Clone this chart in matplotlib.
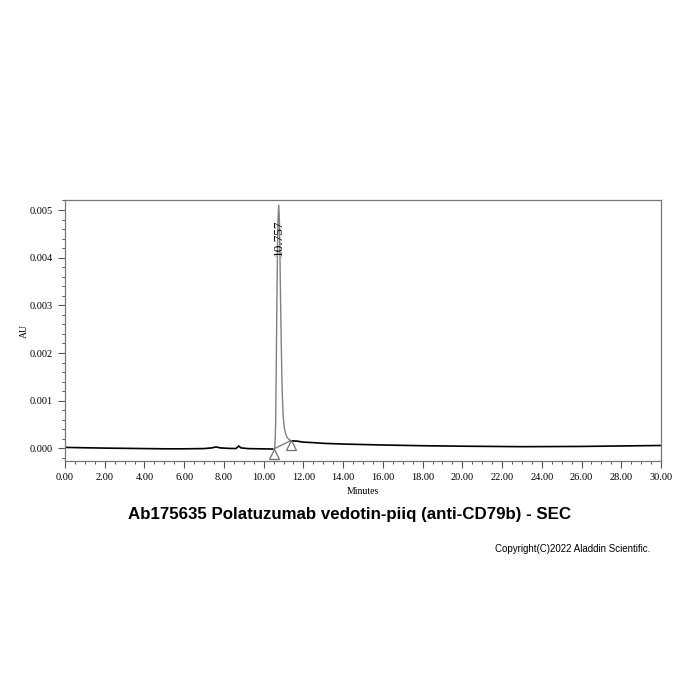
import matplotlib
matplotlib.use("Agg")
import matplotlib.pyplot as plt
from matplotlib.ticker import MultipleLocator, FormatStrFormatter
from matplotlib.transforms import offset_copy

# baseline before the peak (minutes, AU)
pre_t = [0.0, 1.0, 2.0, 3.0, 4.0, 5.0, 6.0, 7.0, 7.4, 7.6, 7.8, 8.2, 8.6,
         8.75, 8.85, 9.2, 9.8, 10.5]
pre_v = [0.00002, 0.000012, 0.000005, 0.0, -0.000005, -0.00001, -0.00001,
         -0.000005, 0.00001, 0.00003, 0.00001, 0.0, -0.000005, 0.00005,
         0.00001, -0.000005, -0.00001, -0.000015]

# integrated peak
peak_t = [10.50, 10.55, 10.58, 10.60, 10.63, 10.66, 10.69, 10.72, 10.757,
          10.79, 10.82, 10.85, 10.88, 10.91, 10.94, 10.98, 11.04, 11.10,
          11.18, 11.26, 11.35]
peak_v = [-0.000015, 0.00001, 0.0002, 0.0005, 0.0016, 0.0029, 0.0040,
          0.0048, 0.0051, 0.0048, 0.0040, 0.0031, 0.0023, 0.0016, 0.0011,
          0.00068, 0.00043, 0.00031, 0.00023, 0.00019, 0.00016]

# baseline after the peak
post_t = [11.35, 11.7, 12.0, 12.5, 13.0, 14.0, 15.0, 16.0, 18.0, 20.0,
          23.0, 26.0, 28.0, 30.0]
post_v = [0.00016, 0.00015, 0.00013, 0.00012, 0.000105, 0.00009, 0.00008,
          0.00007, 0.000055, 0.000045, 0.000035, 0.00004, 0.00005, 0.00006]

peak_rt = 10.757
peak_start = (10.50, -0.000015)
peak_end = (11.35, 0.00016)

serif = "Liberation Serif"

fig = plt.figure(figsize=(7, 7), dpi=100)
ax = fig.add_axes([0.0929, 0.3414, 0.8514, 0.3729])

ax.plot(pre_t, pre_v, color="black", lw=1.2)
ax.plot(post_t, post_v, color="black", lw=1.2)
ax.plot(peak_t, peak_v, color="#808080", lw=1.0)
ax.plot([peak_start[0], peak_end[0]], [peak_start[1], peak_end[1]],
        color="#808080", lw=1.0)

# triangles hang below the integration points
tri = offset_copy(ax.transData, fig=fig, y=-4.5, units="dots")
ax.plot([peak_start[0], peak_end[0]], [peak_start[1], peak_end[1]],
        ls="none", marker="^", ms=7, mfc="white", mec="#707070", mew=0.9,
        transform=tri)

ax.text(peak_rt + 0.02, 0.00442, f"{peak_rt:.3f}", rotation=90, ha="center",
        va="center", fontsize=9.5, family=serif, color="black")

ax.set_xlim(0, 30)
ax.set_ylim(-0.000266, 0.00521)
ax.xaxis.set_major_locator(MultipleLocator(2))
ax.xaxis.set_minor_locator(MultipleLocator(0.5))
ax.yaxis.set_major_locator(MultipleLocator(0.001))
ax.yaxis.set_minor_locator(MultipleLocator(0.0002))
ax.xaxis.set_major_formatter(FormatStrFormatter("%.2f"))
ax.yaxis.set_major_formatter(FormatStrFormatter("%.3f"))

for s in ax.spines.values():
    s.set_color("#777777")
    s.set_linewidth(0.9)
ax.tick_params(which="both", direction="out", colors="#555555",
               labelcolor="black", labelsize=7.5)
ax.tick_params(which="major", length=5, width=0.8)
ax.tick_params(which="minor", length=2.5, width=0.7)
for lab in ax.get_xticklabels() + ax.get_yticklabels():
    lab.set_family(serif)

ax.set_xlabel("Minutes", fontsize=7, family=serif, labelpad=4)
ax.set_ylabel("AU", fontsize=7, family=serif, labelpad=1)

fig.text(0.5, 1 - 515 / 700, "Ab175635 Polatuzumab vedotin-piiq (anti-CD79b) - SEC",
         ha="center", va="center", fontsize=12.2, fontweight="bold",
         family="Liberation Sans")
fig.text(650 / 700, 1 - 549 / 700, "Copyright(C)2022 Aladdin Scientific.",
         ha="right", va="center", fontsize=7, family="Liberation Sans")

fig.savefig("out.png", dpi=100)
